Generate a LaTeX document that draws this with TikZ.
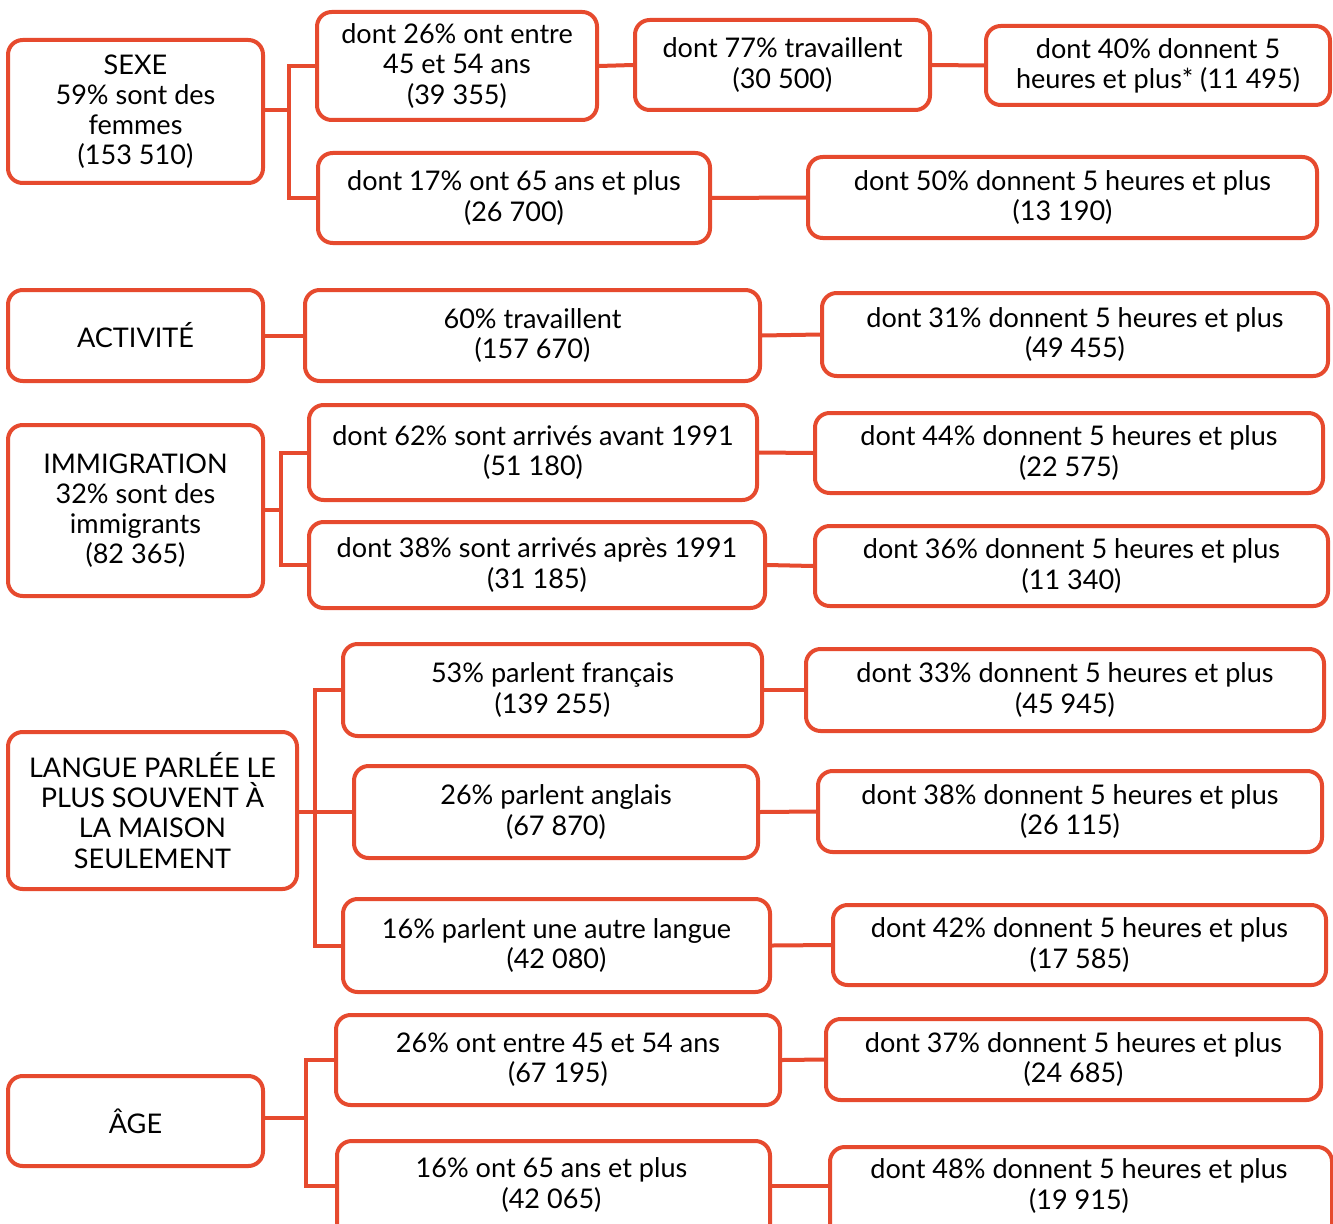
\documentclass[tikz,border=0pt]{standalone}
\usepackage{fontspec}
\setmainfont{Lato}
\definecolor{brd}{HTML}{E64A2E}
\tikzset{
  txt/.style={font=\fontsize{20.3}{22.6}\selectfont, text=black, align=center},
  box/.style={txt, draw=brd, line width=3pt, rounded corners=11pt, fill=white, inner sep=0pt},
  conn/.style={draw=brd, line width=3pt}
}
\newcommand{\boxnode}[6]{%
  \node[box, minimum width={(#4-#2)*0.75pt}, minimum height={(#5-#3)*0.75pt}] (#1) at ({(#2+#4)/2},{(#3+#5)/2}) {#6};}
\begin{document}
\begin{tikzpicture}[x=0.75pt,y=-0.75pt]
\useasboundingbox (0,0) rectangle (1333,1223);
\coordinate (jS) at (289,110);
\coordinate (jI) at (281,510);
\coordinate (jL) at (315,812);
\coordinate (jG) at (306,1118);
% SEXE
\boxnode{sexe}{8}{40}{263}{183}{SEXE\\59\% sont des\\femmes\\(153 510)}
\boxnode{s1}{317}{12}{597}{120}{dont 26\% ont entre\\45 et 54 ans\\(39 355)}
\boxnode{s1b}{635}{20}{930}{110}{dont 77\% travaillent\\(30 500)}
\boxnode{s1c}{986}{26}{1330}{105}{dont 40\% donnent 5\\heures et plus* (11 495)}
\boxnode{s2}{318}{153}{710}{243}{dont 17\% ont 65 ans et plus\\(26 700)}
\boxnode{s2b}{808}{157}{1317}{238}{dont 50\% donnent 5 heures et plus\\(13 190)}
% ACTIVITE
\boxnode{act}{8}{290}{263}{381}{ACTIVITÉ}
\boxnode{a1}{305}{290}{760}{381}{60\% travaillent\\(157 670)}
\boxnode{a2}{822}{293}{1328}{376}{dont 31\% donnent 5 heures et plus\\(49 455)}
% IMMIGRATION
\boxnode{imm}{8}{425}{263}{596}{IMMIGRATION\\32\% sont des\\immigrants\\(82 365)}
\boxnode{i1}{309}{405}{757}{500}{dont 62\% sont arrivés avant 1991\\(51 180)}
\boxnode{i1b}{815}{413}{1323}{493}{dont 44\% donnent 5 heures et plus\\(22 575)}
\boxnode{i2}{309}{522}{765}{608}{dont 38\% sont arrivés après 1991\\(31 185)}
\boxnode{i2b}{815}{526}{1328}{606}{dont 36\% donnent 5 heures et plus\\(11 340)}
% LANGUE
\boxnode{lang}{8}{732}{297}{889}{LANGUE PARLÉE LE\\PLUS SOUVENT À\\LA MAISON\\SEULEMENT}
\boxnode{l1}{343}{644}{762}{736}{53\% parlent français\\(139 255)}
\boxnode{l1b}{806}{649}{1324}{731}{dont 33\% donnent 5 heures et plus\\(45 945)}
\boxnode{l2}{354}{766}{758}{858}{26\% parlent anglais\\(67 870)}
\boxnode{l2b}{818}{771}{1322}{852}{dont 38\% donnent 5 heures et plus\\(26 115)}
\boxnode{l3}{343}{899}{770}{992}{16\% parlent une autre langue\\(42 080)}
\boxnode{l3b}{833}{905}{1326}{985}{dont 42\% donnent 5 heures et plus\\(17 585)}
% AGE
\boxnode{age}{8}{1076}{263}{1166}{ÂGE}
\boxnode{g1}{336}{1015}{780}{1105}{26\% ont entre 45 et 54 ans\\(67 195)}
\boxnode{g1b}{826}{1019}{1321}{1100}{dont 37\% donnent 5 heures et plus\\(24 685)}
\node[box, minimum width={433*0.75pt}, minimum height={110*0.75pt}, anchor=north west] (g2) at (335,1139) {};
\node[txt] (g2t) at (551.5,1185) {16\% ont 65 ans et plus\\(42 065)};
\node[box, minimum width={502*0.75pt}, minimum height={105*0.75pt}, anchor=north west] (g2b) at (828,1145) {};
\node[txt] (g2bt) at (1079,1186) {dont 48\% donnent 5 heures et plus\\(19 915)};
% connectors
\draw[conn] (sexe.east |- jS) -- (jS);
\draw[conn] (s1.west) -| (jS) |- (s2.west);
\draw[conn] (s1.east) -- (s1b.west);
\draw[conn] (s1b.east) -- (s1c.west);
\draw[conn] (s2.east) -- (s2b.west);
\draw[conn] (act.east) -- (a1.west);
\draw[conn] (a1.east) -- (a2.west);
\draw[conn] (imm.east |- jI) -- (jI);
\draw[conn] (i1.west) -| (jI) |- (i2.west);
\draw[conn] (i1.east) -- (i1b.west);
\draw[conn] (i2.east) -- (i2b.west);
\draw[conn] (lang.east |- jL) -- (l2.west |- jL);
\draw[conn] (l1.west) -| (jL) |- (l3.west);
\draw[conn] (l1.east) -- (l1b.west);
\draw[conn] (l2.east) -- (l2b.west);
\draw[conn] (l3.east) -- (l3b.west);
\draw[conn] (age.east |- jG) -- (jG);
\draw[conn] (g1.west) -| (jG) |- (g2.west |- 0,1186);
\draw[conn] (g1.east) -- (g1b.west);
\draw[conn] (g2.east |- 0,1186) -- (g2b.west |- 0,1186);
\end{tikzpicture}
\end{document}
